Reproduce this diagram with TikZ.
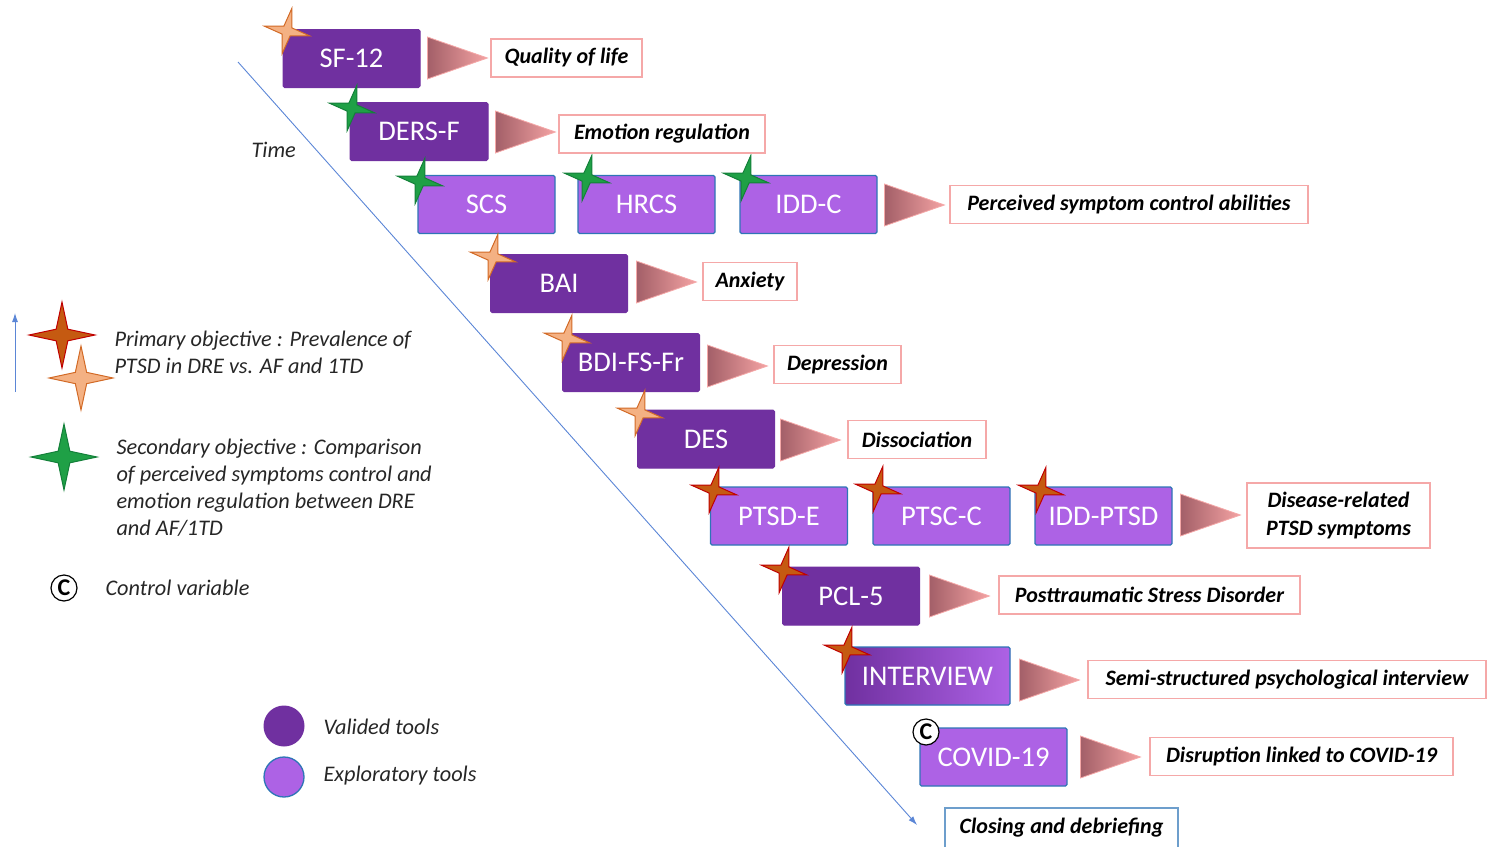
\documentclass[tikz,border=0pt]{standalone}
\usepackage{fontspec}
\setmainfont{Carlito}
\usetikzlibrary{shapes.geometric,arrows.meta}
\definecolor{valid}{HTML}{7030A0}
\definecolor{explo}{HTML}{AD62E5}
\definecolor{toolblue}{HTML}{2E75B6}
\definecolor{outpink}{HTML}{F5A8A8}
\definecolor{trileft}{HTML}{A35F68}
\definecolor{triright}{HTML}{F4A3A3}
\definecolor{timeblue}{HTML}{5B86D6}
\definecolor{redfill}{HTML}{C55A11}
\definecolor{redline}{HTML}{C00000}
\definecolor{orfill}{HTML}{F4B183}
\definecolor{orline}{HTML}{D26A26}
\definecolor{grfill}{HTML}{1FA046}
\definecolor{grline}{HTML}{14803A}
\begin{document}
\begin{tikzpicture}[x=1pt,y=-1pt,
    tool/.style={minimum width=137pt,minimum height=58pt,inner sep=0pt,text=white,
        font=\fontsize{28.5}{32}\selectfont,rounded corners=1.5pt},
    valid/.style={tool,fill=valid,draw=valid,line width=1pt},
    explo/.style={tool,fill=explo,draw=toolblue,line width=1.3pt},
    tri/.style={isosceles triangle,isosceles triangle stretches,minimum width=42pt,minimum height=60pt,
        inner sep=0pt,anchor=west,left color=trileft,right color=triright,draw=outpink,line width=0.8pt},
    outcome/.style={draw=outpink,line width=1.3pt,fill=white,minimum height=38pt,inner sep=0pt,
        font=\fontsize{22}{28}\selectfont\bfseries\itshape,align=center},
    spark/.style={star,star points=4,star point ratio=4,minimum size=46pt,inner sep=0pt,line width=1pt},
    redstar/.style={spark,fill=redfill,draw=redline},
    orstar/.style={spark,fill=orfill,draw=orline},
    grstar/.style={spark,fill=grfill,draw=grline},
    ctrl/.style={circle,draw,line width=1.2pt,fill=white,minimum size=26pt,inner sep=0pt,
        font=\fontsize{24}{24}\selectfont\bfseries},
    legtext/.style={anchor=west,align=left,font=\fontsize{22.3}{27}\selectfont\itshape,text=black!85}]
    \useasboundingbox (0,0) rectangle (1496,846);
    % time axis
    \coordinate (tstart) at (238,62);
    \coordinate (tend) at (917,825);
    \draw[timeblue,line width=0.9pt,-{Latex[length=9pt,width=6pt]}] (tstart) -- (tend);
    \node[legtext] (time) at (248,150) {Time};
    % tools
    \node[valid] (sf12) at (351.5,58.5) {SF-12};
    \node[valid,minimum width=138pt] (dersf) at (419,131.5) {DERS-F};
    \node[explo] (scs) at (486.5,204.5) {SCS};
    \node[explo] (hrcs) at (646.5,204.5) {HRCS};
    \node[explo] (iddc) at (808.5,204.5) {IDD-C};
    \node[valid] (bai) at (559,283.5) {BAI};
    \node[valid] (bdi) at (631,362.5) {BDI-FS-Fr};
    \node[valid] (des) at (706,439) {DES};
    \node[explo] (ptsde) at (779,516) {PTSD-E};
    \node[explo] (ptscc) at (941.5,516) {PTSC-C};
    \node[explo] (iddptsd) at (1103.5,516) {IDD-PTSD};
    \node[valid] (pcl) at (851,596) {PCL-5};
    \node[explo,left color=valid,right color=explo,minimum width=165pt] (interview) at (927.5,676) {INTERVIEW};
    \node[explo,minimum width=147pt] (covid) at (993.5,757) {COVID-19};
    % marks on the tools
    \node[orstar,rotate=-12] (s1) at (287,31) {};
    \node[grstar,rotate=-12] (s2) at (352,108) {};
    \node[grstar,rotate=-12] (s3) at (420,181) {};
    \node[grstar,rotate=-12] (s4) at (587,178) {};
    \node[grstar,rotate=-12] (s5) at (746,178) {};
    \node[orstar,rotate=-12] (s6) at (493,257) {};
    \node[orstar,rotate=-12] (s7) at (567,338) {};
    \node[orstar,rotate=-12] (s8) at (640,413) {};
    \node[redstar,rotate=-12] (s9) at (714,490) {};
    \node[redstar,rotate=-12] (s10) at (878,489) {};
    \node[redstar,rotate=-12] (s11) at (1041,490) {};
    \node[redstar,rotate=-12] (s12) at (784,570) {};
    \node[redstar,rotate=-12] (s13) at (847,650) {};
    \node[ctrl] (c1) at (926,732) {C};
    % triangles
    \node[tri] (t1) at (427,58) {};
    \node[tri] (t2) at (495,132) {};
    \node[tri] (t3) at (884,205) {};
    \node[tri] (t4) at (636,282) {};
    \node[tri] (t5) at (707,366) {};
    \node[tri] (t6) at (780,440) {};
    \node[tri] (t7) at (1180,515) {};
    \node[tri] (t8) at (929,596) {};
    \node[tri] (t9) at (1019,680) {};
    \node[tri] (t10) at (1080,757) {};
    % outcomes
    \node[outcome,minimum width=151pt] (o1) at (566.5,58) {Quality of life};
    \node[outcome,minimum width=206pt] (o2) at (662,134) {Emotion regulation};
    \node[outcome,minimum width=358pt] (o3) at (1129,204.5) {Perceived symptom control abilities};
    \node[outcome,minimum width=94pt] (o4) at (750,281.5) {Anxiety};
    \node[outcome,minimum width=127pt] (o5) at (837.5,364.5) {Depression};
    \node[outcome,minimum width=138pt] (o6) at (917,439.5) {Dissociation};
    \node[outcome,minimum width=183pt,minimum height=65pt] (o7) at (1338.5,515.5) {Disease-related\\PTSD symptoms};
    \node[outcome,minimum width=301pt] (o8) at (1149.5,595) {Posttraumatic Stress Disorder};
    \node[outcome,minimum width=398pt] (o9) at (1287,679.5) {Semi-structured psychological interview};
    \node[outcome,minimum width=303pt] (o10) at (1301.5,756.5) {Disruption linked to COVID-19};
    \node[outcome,draw=toolblue!70,minimum width=233pt,minimum height=40pt] (o11) at (1061.5,828) {Closing and debriefing};
    % legend
    \coordinate (la0) at (15,392);
    \coordinate (la1) at (15,313);
    \draw[timeblue,line width=0.9pt,-{Latex[length=9pt,width=6pt]}] (la0) -- (la1);
    \node[redstar,minimum size=66pt] (lred) at (62,335) {};
    \node[orstar,minimum size=64pt] (lor) at (81,378) {};
    \node[legtext] (lprim) at (111,352) {Primary objective : Prevalence of\\PTSD in DRE vs. AF and 1TD};
    \node[grstar,minimum size=66pt] (lgr) at (64,457) {};
    \node[legtext] (lsec) at (113,487.5) {Secondary objective : Comparison\\of perceived symptoms control and\\emotion regulation between DRE\\and AF/1TD};
    \node[ctrl] (lc) at (64,588) {C};
    \node[legtext] (lctrl) at (102,588) {Control variable};
    \node[circle,fill=valid,minimum width=41pt,minimum height=36pt,inner sep=0pt] (lval) at (284,726) {};
    \node[legtext] (lvaltxt) at (320,727) {Valided tools};
    \node[circle,fill=explo,draw=toolblue,line width=1.3pt,minimum width=40pt,minimum height=36pt,inner sep=0pt] (lexp) at (284,777) {};
    \node[legtext] (lexptxt) at (320,776) {Exploratory tools};
\end{tikzpicture}
\end{document}
